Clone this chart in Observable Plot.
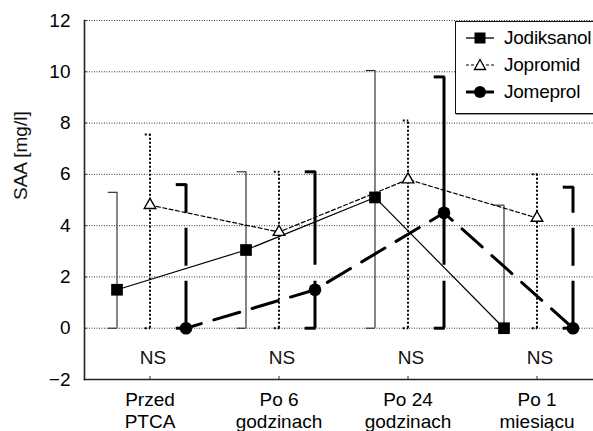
<!DOCTYPE html>
<html><head><meta charset="utf-8">
<script src="https://cdn.jsdelivr.net/npm/d3@7"></script>
<script src="https://cdn.jsdelivr.net/npm/@observablehq/plot@0.6"></script>
<style>
html,body{margin:0;padding:0;background:#fff;overflow:hidden;}
#wrap{position:relative;width:593px;height:431px;overflow:hidden;}
#wrap svg{display:block;}
.legend{position:absolute;left:455px;top:21px;width:170px;height:93px;border:1.6px solid #111;background:#fff;box-sizing:border-box;box-shadow:1px 1px 0 #999;}
.row{position:absolute;left:0;height:26px;display:flex;align-items:center;}
.row svg{display:block;margin-left:8px;}
.row span{margin-left:8px;font-size:19px;letter-spacing:-0.25px;color:#000;line-height:26px;}
</style></head><body><div id="wrap"></div>
<script>
const FONT = '"Liberation Sans", Arial, Helvetica, sans-serif';

// ---- data ----
const categories = ["Przed\nPTCA", "Po 6\ngodzinach", "Po 24\ngodzinach", "Po 1\nmiesiącu"];
const series = ["Jodiksanol", "Jopromid", "Jomeprol"];
const jodiksanolMean  = [1.5, 3.05, 5.1, 0];
const jodiksanolUpper = [5.3, 6.1, 10.05, 4.8];
const jopromidMean    = [4.8, 3.75, 5.8, 4.3];
const jopromidUpper   = [7.55, 6.1, 8.1, 6.0];
const jomeprolMean    = [0, 1.5, 4.5, 0];
const jomeprolUpper   = [5.6, 6.1, 9.8, 5.5];
const nsLabels = ["NS", "NS", "NS", "NS"];
const yTicks = [-2, 0, 2, 4, 6, 8, 10, 12];
const gridTicks = [0, 2, 4, 6, 8, 10, 12];
const yLabel = "SAA [mg/l]";

const table = (name, mean, upper) => categories.map((c, i) => ({series: name, cat: c, i, mean: mean[i], upper: upper[i]}));
const jod = table(series[0], jodiksanolMean, jodiksanolUpper);
const jop = table(series[1], jopromidMean, jopromidUpper);
const jom = table(series[2], jomeprolMean, jomeprolUpper);

// ---- layout / style ----
const X0 = 84, X1 = 602;
const BW = (X1 - X0) / categories.length;
const FS = 19;

function errorBars(data, {dx, cap, stroke, strokeWidth, dash, dashFor}) {
  const marks = [];
  if (dashFor) {
    for (const [d, idx] of dashFor) {
      marks.push(Plot.ruleX(data.filter(r => idx.includes(r.i)), {x: "cat", y1: 0, y2: "upper", dx, stroke, strokeWidth, strokeDasharray: d}));
    }
  } else {
    marks.push(Plot.ruleX(data, {x: "cat", y1: 0, y2: "upper", dx, stroke, strokeWidth, strokeDasharray: dash}));
  }
  const capOpts = {x: "cat", dx, stroke, strokeWidth, strokeDasharray: dash, insetLeft: BW / 2 - cap, insetRight: BW / 2 - strokeWidth / 2};
  marks.push(Plot.tickY(data, {...capOpts, y: "upper"}));
  marks.push(Plot.tickY(data, {...capOpts, y: () => 0}));
  return marks;
}

const chart = Plot.plot({
  width: 593, height: 431,
  marginTop: 20, marginBottom: 52, marginLeft: X0, marginRight: 0,
  style: {fontFamily: FONT, fontSize: FS + "px", background: "white", color: "black", overflow: "hidden"},
  x: {type: "band", domain: categories, range: [X0, X1], padding: 0},
  y: {domain: [-2, 12]},
  marks: [
    Plot.gridY(gridTicks, {stroke: "#000", strokeOpacity: 0.8, strokeDasharray: "1,1.5", strokeWidth: 1}),
    Plot.axisY(yTicks, {tickSize: -3, tickPadding: 17, fontSize: FS, fontFamily: FONT, label: null, stroke: "#333"}),
    Plot.axisX({tickSize: -3, tickPadding: 13, fontSize: FS, fontFamily: FONT, label: null, lineHeight: 1.2, stroke: "#333"}),
    Plot.frame({anchor: "left", stroke: "#222", strokeWidth: 1.6}),
    Plot.frame({anchor: "bottom", stroke: "#222", strokeWidth: 1.6}),
    Plot.text([yLabel], {frameAnchor: "left", dx: -64, rotate: -90, fontSize: FS, fontFamily: FONT, fill: "#111"}),
    Plot.text(nsLabels, {x: (d, i) => categories[i], frameAnchor: "bottom", dy: -16, dx: 3, text: d => d, fontSize: FS, fontFamily: FONT, fill: "#111"}),

    ...errorBars(jod, {dx: -33, cap: 9, stroke: "#222", strokeWidth: 1.1}),
    ...errorBars(jop, {dx: 0, cap: 5, stroke: "#000", strokeWidth: 2, dash: "2,2"}),
    ...errorBars(jom, {dx: 36, cap: 10, stroke: "#000", strokeWidth: 3, dashFor: [["47,15,38,15,1000", [0, 3]], ["47,16,1000", [1, 2]]]}),

    Plot.line(jod, {x: "cat", y: "mean", dx: -33, stroke: "#000", strokeWidth: 1.2}),
    Plot.line(jop, {x: "cat", y: "mean", dx: 0, stroke: "#000", strokeWidth: 1.2, strokeDasharray: "4,2.5"}),
    Plot.line(jom, {x: "cat", y: "mean", dx: 36, stroke: "#000", strokeWidth: 3, strokeDasharray: "27,13", strokeDashoffset: 11}),

    Plot.dot(jod, {x: "cat", y: "mean", dx: -33, symbol: "square", r: 6.6, fill: "#000"}),
    Plot.dot(jop, {x: "cat", y: "mean", dx: 0, symbol: "triangle", r: 4.3, fill: "#fff", stroke: "#000", strokeWidth: 1.4}),
    Plot.dot(jom, {x: "cat", y: "mean", dx: 36, symbol: "circle", r: 6.3, fill: "#000"})
  ]
});

const wrap = document.getElementById("wrap");
wrap.appendChild(chart);

// ---- legend (overlaid at top right, as in the reference) ----
const swatch = {
  Jodiksanol: '<line x1="2" y1="13" x2="30" y2="13" stroke="#000" stroke-width="1.3"/><rect x="10.5" y="7.5" width="11" height="11" fill="#000"/>',
  Jopromid: '<line x1="2" y1="13" x2="30" y2="13" stroke="#000" stroke-width="1.2" stroke-dasharray="3,2"/><path d="M16,7.5 L21.5,17.5 L10.5,17.5 Z" fill="#fff" stroke="#000" stroke-width="1.3"/>',
  Jomeprol: '<line x1="2" y1="13" x2="30" y2="13" stroke="#000" stroke-width="3"/><circle cx="16" cy="13" r="6" fill="#000"/>'
};
const legend = document.createElement("div");
legend.className = "legend";
series.forEach((s, k) => {
  const row = document.createElement("div");
  row.className = "row";
  row.style.top = (3 + k * 27) + "px";
  row.innerHTML = `<svg width="32" height="26" viewBox="0 0 32 26">${swatch[s]}</svg><span style="font-family:${FONT.replace(/"/g, "'")}">${s}</span>`;
  legend.appendChild(row);
});
wrap.appendChild(legend);
</script>
</body></html>
